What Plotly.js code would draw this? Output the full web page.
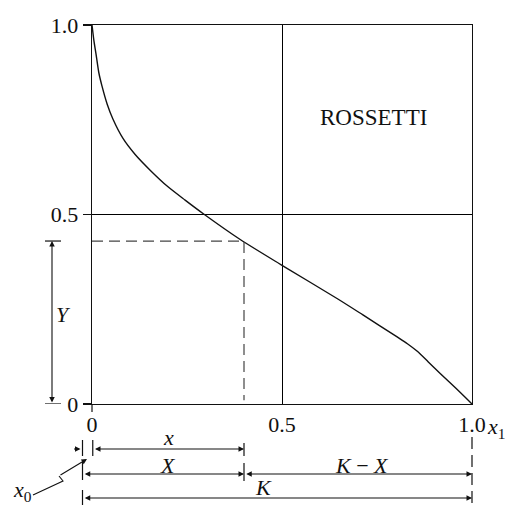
<!DOCTYPE html>
<html>
<head>
<meta charset="utf-8">
<script src="https://cdn.plot.ly/plotly-3.0.1.min.js"></script>
<style>
  html, body { margin: 0; padding: 0; background: #fff; }
  #chart { width: 507px; height: 505px; }
</style>
</head>
<body>
<div id="chart"></div>
<script>
// Rossetti curve: fraction y against composition x1
const curveX = [0, 0.005, 0.0105, 0.018, 0.026, 0.040, 0.055, 0.082, 0.113, 0.153, 0.2, 0.245,
                0.293, 0.39, 0.5, 0.647, 0.713, 0.803, 0.830, 0.856, 0.885, 0.917, 0.957, 1.0];
const curveY = [1, 0.959, 0.924, 0.874, 0.840, 0.791, 0.752, 0.700, 0.659, 0.617, 0.573, 0.538,
                0.502, 0.434, 0.366, 0.277, 0.235, 0.177, 0.159, 0.139, 0.111, 0.080, 0.042, 0];

// Reading at the chosen composition
const readX = 0.4;
const readY = 0.43;
const x0Width = 0.025;   // offset x0 to the left of the origin

// Axis ticks
const tickVals = [0, 0.5, 1];
const tickText = ['0', '0.5', '1.0'];

const SERIF = "'Liberation Serif', 'Times New Roman', Times, serif";
const INK = '#111';

// Plot box geometry in px (used to place dimension lines under the axis)
const M = { l: 92, r: 35, t: 25, b: 101 };
const H = 505 - M.t - M.b;
const W = 507 - M.l - M.r;
const py = px => -px / H;          // px below the x axis -> paper y
const pxX = px => px / W;          // px offset -> paper x

const traces = [
  {
    x: curveX, y: curveY, mode: 'lines', type: 'scatter',
    line: { color: INK, width: 1.4, shape: 'spline', smoothing: 0.7 },
    hoverinfo: 'skip'
  },
  {
    x: [0, readX, readX], y: [readY, readY, 0.01], mode: 'lines', type: 'scatter',
    line: { color: '#444', width: 1.2, dash: '11px,6px' },
    hoverinfo: 'skip'
  }
];

const shapes = [];
function seg(x0, y0, x1, y1, xref, yref, extra) {
  shapes.push(Object.assign({ type: 'line', x0, y0, x1, y1, xref, yref,
    line: { color: INK, width: 1.2 } }, extra || {}));
}
const xL = -x0Width;                  // left end of the x0 offset
// origin tick below the axis
seg(0, 0, 0, py(8), 'paper', 'paper');
// row of x
seg(xL, py(36), xL, py(52), 'paper', 'paper');
seg(0.002, py(36), 0.002, py(52), 'paper', 'paper');
seg(readX, py(39), readX, py(52), 'paper', 'paper');
// row of X and K - X
seg(xL, py(58), xL, py(76), 'paper', 'paper');
seg(readX, py(59), readX, py(77), 'paper', 'paper');
// row of K
seg(xL, py(86), xL, py(101), 'paper', 'paper');
// dashed limit at x1 = 1
seg(1, py(33), 1, py(101), 'paper', 'paper', { line: { color: INK, width: 1.2, dash: '12px,6px' } });
// Y bracket ticks
seg(pxX(-47), readY, pxX(-31), readY, 'paper', 'y');
seg(pxX(-47), 0, pxX(-31), 0, 'paper', 'y');
// zig-zag leader for x0
shapes.push({
  type: 'path', xref: 'paper', yref: 'paper',
  path: 'M ' + pxX(-59) + ' ' + py(91) +
        ' L ' + pxX(-29) + ' ' + py(77) +
        ' L ' + pxX(-33) + ' ' + py(72),
  line: { color: INK, width: 1.1 }
});

const annFont = { family: SERIF, size: 22, color: INK };
const arrowBase = { text: '', showarrow: true, arrowhead: 2, arrowsize: 1, arrowwidth: 1.1,
  arrowcolor: INK, standoff: 0, startstandoff: 0 };

function dimArrow(xa, xb, yPaper, xref) {
  return Object.assign({}, arrowBase, {
    xref: xref, yref: 'paper', x: xb, y: yPaper,
    axref: xref, ax: xa, ayref: 'pixel', ay: 0,
    arrowside: 'end+start'
  });
}
function label(text, xref, x, yref, y, extra) {
  return Object.assign({ text, xref, x, yref, y, showarrow: false,
    xanchor: 'center', yanchor: 'middle', font: annFont }, extra || {});
}

const annotations = [
  // x, X, K - X, K dimension arrows
  dimArrow(0.004, readX, py(45), 'x'),
  dimArrow(xL + 0.002, readX, py(70), 'paper'),
  dimArrow(readX + 0.002, 1, py(70), 'x'),
  dimArrow(xL + 0.002, 1, py(94), 'paper'),
  // x0 pointer arrow from the left
  Object.assign({}, arrowBase, {
    xref: 'paper', yref: 'paper', x: xL - pxX(2), y: py(45),
    axref: 'paper', ax: xL - pxX(10), ayref: 'pixel', ay: 0
  }),
  // leader arrowhead toward x0
  Object.assign({}, arrowBase, {
    xref: 'paper', yref: 'paper', x: pxX(-5), y: py(55),
    axref: 'paper', ax: pxX(-33), ayref: 'paper', ay: py(72)
  }),
  // Y bracket arrow
  Object.assign({}, arrowBase, {
    xref: 'paper', yref: 'y', x: pxX(-40), y: readY,
    axref: 'paper', ax: pxX(-40), ayref: 'y', ay: 0,
    arrowside: 'end+start'
  }),
  // labels
  label('<i>x</i>', 'x', readX / 2, 'paper', py(33)),
  label('<i>X</i>', 'x', readX / 2, 'paper', py(61)),
  label('<i>K</i> \u2212 <i>X</i>', 'x', 0.71, 'paper', py(61)),
  label('<i>K</i>', 'x', 0.45, 'paper', py(83)),
  label('<i>x</i><sub>0</sub>', 'paper', pxX(-70), 'paper', py(87)),
  label('<i>Y</i>', 'paper', pxX(-29), 'y', readY / 2 + 0.02),
  label('<i>x</i><sub>1</sub>', 'paper', 1 + pxX(13), 'paper', py(24), { xanchor: 'left' }),
  label('ROSSETTI', 'x', 0.74, 'y', 0.755, { font: { family: SERIF, size: 23, color: INK } })
];

const axisCommon = {
  range: [0, 1], tickvals: tickVals, ticktext: tickText,
  showgrid: true, gridcolor: '#000', gridwidth: 1,
  zeroline: false, showline: true, mirror: true, linecolor: INK, linewidth: 1.4,
  tickfont: { family: SERIF, size: 22, color: INK }, fixedrange: true
};

const layout = {
  width: 507, height: 505,
  margin: M,
  paper_bgcolor: '#fff', plot_bgcolor: '#fff',
  showlegend: false,
  xaxis: Object.assign({}, axisCommon, { ticks: '' }),
  yaxis: Object.assign({}, axisCommon, { ticks: 'outside', ticklen: 8, tickwidth: 1.3, tickcolor: INK }),
  shapes: shapes,
  annotations: annotations
};

Plotly.newPlot('chart', traces, layout, { displayModeBar: false, staticPlot: true });
</script>
</body>
</html>
